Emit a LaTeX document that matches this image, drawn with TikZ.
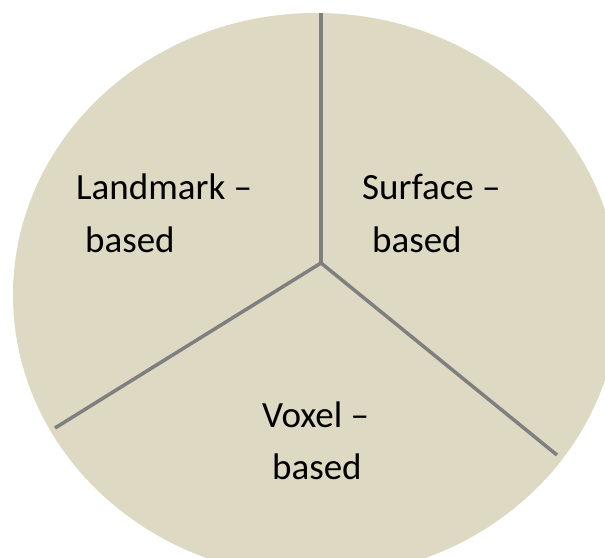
\documentclass[tikz,border=0pt]{standalone}
\usepackage{fontspec}
\setmainfont{Carlito}
\definecolor{piefill}{HTML}{DDD9C3}
\definecolor{pieline}{HTML}{7F7F7F}
\tikzset{
  lbl/.style={anchor=base west, inner sep=0pt, font=\fontsize{37}{44}\selectfont, text=black},
  divider/.style={draw=pieline, line width=4pt}
}
\begin{document}
\begin{tikzpicture}[x=1pt,y=-1pt]
\useasboundingbox (0,0) rectangle (605,557);
\begin{scope}
\clip (0,0) rectangle (605,557);
\fill[piefill] (316,295) ellipse [x radius=303, y radius=282];
\end{scope}
\coordinate (c) at (321,263);
\coordinate (t) at (321,13);
\coordinate (l) at (55,428);
\coordinate (r) at (557,455);
\draw[divider] (c) -- (t);
\draw[divider, line width=3.5pt] (c) -- (l);
\draw[divider, line width=3.5pt] (c) -- (r);
\node[lbl] (lm1) at (76,199) {Landmark –};
\node[lbl] (lm2) at (85,252) {based};
\node[lbl] (sf1) at (362,199) {Surface –};
\node[lbl] (sf2) at (372,252) {based};
\node[lbl] (vx1) at (262,427) {Voxel –};
\node[lbl] (vx2) at (272,479) {based};
\end{tikzpicture}
\end{document}
